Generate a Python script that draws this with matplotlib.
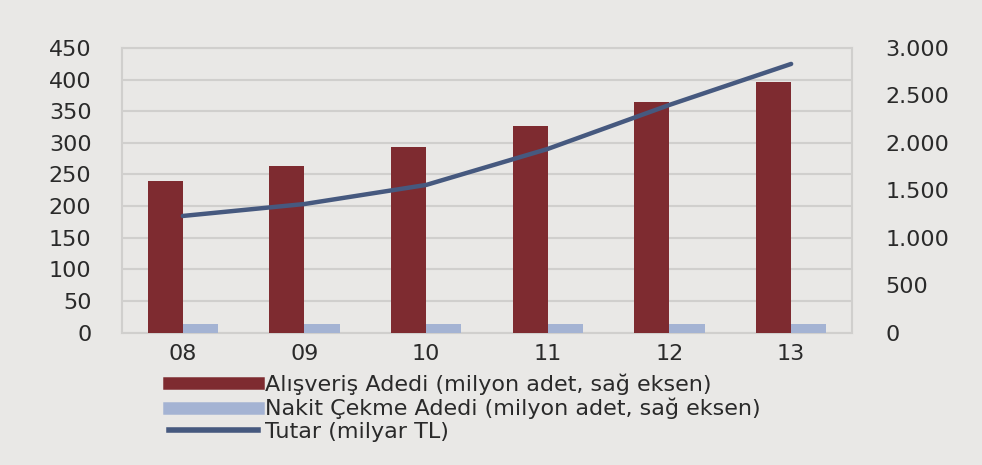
import matplotlib
matplotlib.use("Agg")
import matplotlib.pyplot as plt
from matplotlib.lines import Line2D
import numpy as np

categories = ["08", "09", "10", "11", "12", "13"]
alisveris = [240, 263, 293, 327, 365, 396]
nakit = [13, 13, 13, 14, 13, 13]
tutar = [1229, 1355, 1556, 1936, 2400, 2832]

left_ticks = [0, 50, 100, 150, 200, 250, 300, 350, 400, 450]
right_ticks = [0, 500, 1000, 1500, 2000, 2500, 3000]
right_labels = ["0", "500", "1.000", "1.500", "2.000", "2.500", "3.000"]
legend_labels = ["Alışveriş Adedi (milyon adet, sağ eksen)",
                 "Nakit Çekme Adedi (milyon adet, sağ eksen)",
                 "Tutar (milyar TL)"]

bg = "#E9E8E6"
c_alis = "#7E2B30"
c_nakit = "#A4B3D3"
c_line = "#46597F"
grid_c = "#D0CFCD"
text_c = "#2A2A2A"

plt.rcParams['font.family'] = ['DejaVu Sans']

fig = plt.figure(figsize=(9.82, 4.65), dpi=100, facecolor=bg)
ax = fig.add_axes([0.1242, 0.2849, 0.7434, 0.6119])
ax.set_facecolor(bg)

x = np.arange(len(categories))
w = 0.29
ax.bar(x - w / 2, alisveris, width=w, color=c_alis, zorder=3)
ax.bar(x + w / 2, nakit, width=w, color=c_nakit, zorder=3)

ax.set_xlim(-0.5, len(categories) - 0.5)
ax.set_ylim(0, 450)
ax.set_yticks(left_ticks)
ax.set_yticklabels([str(v) for v in left_ticks])
ax.set_xticks(x)
ax.set_xticklabels(categories)
ax.yaxis.grid(True, color=grid_c, linewidth=1.5, zorder=0)
ax.set_axisbelow(True)
ax.tick_params(axis='y', length=0, pad=22, labelsize=16, labelcolor=text_c)
ax.tick_params(axis='x', length=0, pad=8, labelsize=16, labelcolor=text_c)
for s in ["left", "right", "bottom", "top"]:
    ax.spines[s].set_color(grid_c)
    ax.spines[s].set_linewidth(1.5)

ax2 = ax.twinx()
ax2.plot(x, tutar, color=c_line, linewidth=3.2, solid_capstyle='round', zorder=5)
ax2.set_ylim(0, 3000)
ax2.set_yticks(right_ticks)
ax2.set_yticklabels(right_labels)
ax2.tick_params(axis='y', length=0, pad=24, labelsize=16, labelcolor=text_c)
for s in ["left", "right", "bottom", "top"]:
    ax2.spines[s].set_visible(False)

handles = [Line2D([0], [0], color=c_alis, linewidth=9),
           Line2D([0], [0], color=c_nakit, linewidth=9),
           Line2D([0], [0], color=c_line, linewidth=4)]
fig.legend(handles, legend_labels, loc='center left',
           bbox_to_anchor=(0.161, 0.123), frameon=False, fontsize=16,
           handlelength=4.0, handletextpad=0.3, labelspacing=0.12,
           labelcolor=text_c, borderpad=0)

fig.savefig("out.png", dpi=100, facecolor=bg)
